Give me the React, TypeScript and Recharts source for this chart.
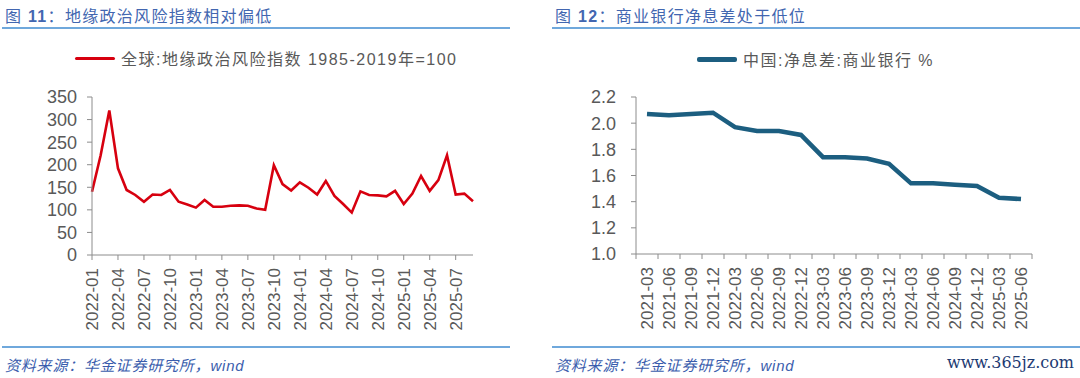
import { Line, LineChart, XAxis, YAxis } from "recharts";

const geoMonths = [
  "2022-01", "2022-02", "2022-03", "2022-04", "2022-05", "2022-06",
  "2022-07", "2022-08", "2022-09", "2022-10", "2022-11", "2022-12",
  "2023-01", "2023-02", "2023-03", "2023-04", "2023-05", "2023-06",
  "2023-07", "2023-08", "2023-09", "2023-10", "2023-11", "2023-12",
  "2024-01", "2024-02", "2024-03", "2024-04", "2024-05", "2024-06",
  "2024-07", "2024-08", "2024-09", "2024-10", "2024-11", "2024-12",
  "2025-01", "2025-02", "2025-03", "2025-04", "2025-05", "2025-06",
  "2025-07", "2025-08", "2025-09",
];
const geoRisk = [
  140, 221, 320, 192, 144, 133, 118, 134, 133, 144, 118, 112,
  105, 122, 107, 107, 109, 110, 109, 103, 100, 199, 157, 143,
  161, 149, 134, 164, 131, 113, 94, 141, 133, 132, 130, 142,
  113, 136, 175, 142, 166, 221, 134, 136, 119,
];
const geoTicks = [0, 50, 100, 150, 200, 250, 300, 350];

const nimQuarters = [
  "2021-03", "2021-06", "2021-09", "2021-12",
  "2022-03", "2022-06", "2022-09", "2022-12",
  "2023-03", "2023-06", "2023-09", "2023-12",
  "2024-03", "2024-06", "2024-09", "2024-12",
  "2025-03", "2025-06",
];
const nimValues = [
  2.07, 2.06, 2.07, 2.08, 1.97, 1.94, 1.94, 1.91, 1.74,
  1.74, 1.73, 1.69, 1.54, 1.54, 1.53, 1.52, 1.43, 1.42,
];
const nimTicks = [1.0, 1.2, 1.4, 1.6, 1.8, 2.0, 2.2];

const geoData = geoMonths.map((month, i) => ({ month, value: geoRisk[i] }));
const nimData = nimQuarters.map((quarter, i) => ({ quarter, value: nimValues[i] }));

const FONT = "'Liberation Sans', Arial, 'Noto Sans CJK SC', sans-serif";
const AXIS = "#8c8c8c";
const TEXT = "#595959";
const TITLE = "#4266b0";
const RULE = "#6fa8dc";

const NIM_PLOT_W = 396;
const nimStep = NIM_PLOT_W / nimQuarters.length;

function RotatedTick(props: any) {
  const { x, y, payload } = props;
  return (
    <text
      x={x}
      y={y}
      dy="0.35em"
      transform={`rotate(-90, ${x}, ${y})`}
      textAnchor="end"
      fill={TEXT}
      fontSize={17}
      fontFamily={FONT}
    >
      {payload.value}
    </text>
  );
}

// ticks sit between categories on the quarterly chart
function BetweenTick(props: any) {
  const { x, y, payload, index } = props;
  const axisY = y - 13;
  const half = nimStep / 2;
  return (
    <g>
      <line x1={x - half} x2={x - half} y1={axisY} y2={axisY + 5} stroke={AXIS} />
      {index === nimQuarters.length - 1 && (
        <line x1={x + half} x2={x + half} y1={axisY} y2={axisY + 5} stroke={AXIS} />
      )}
      <RotatedTick x={x} y={y} payload={payload} />
    </g>
  );
}

function Header({ num, text }: { num: string; text: string }) {
  return (
    <div
      style={{
        position: "absolute",
        left: 3,
        top: 3,
        fontSize: 16,
        letterSpacing: 1.3,
        color: TITLE,
        fontFamily: FONT,
        whiteSpace: "nowrap",
      }}
    >
      图 <b>{num}</b>：{text}
    </div>
  );
}

function LegendItem({ color, width, label }: { color: string; width: number; label: string }) {
  return (
    <div
      style={{
        display: "flex",
        alignItems: "center",
        gap: 6,
        fontSize: 16,
        letterSpacing: 1.5,
        color: TEXT,
        fontFamily: FONT,
        whiteSpace: "nowrap",
      }}
    >
      <span style={{ display: "inline-block", width: 40, height: width, background: color, borderRadius: 2 }} />
      <span>{label}</span>
    </div>
  );
}

function Footer() {
  return (
    <div
      style={{
        position: "absolute",
        left: 3,
        top: 354,
        fontSize: 15,
        fontStyle: "italic",
        color: "#3a5dad",
        fontFamily: FONT,
        letterSpacing: 0.8,
        whiteSpace: "nowrap",
      }}
    >
      资料来源：华金证券研究所，wind
    </div>
  );
}

function Rules({ width }: { width: number }) {
  return (
    <>
      <div style={{ position: "absolute", left: 0, top: 27, width, height: 2, background: RULE }} />
      <div style={{ position: "absolute", left: 0, top: 346, width, height: 2, background: RULE }} />
    </>
  );
}

export default function App() {
  return (
    <div style={{ position: "relative", width: 1080, height: 378, background: "#fff", overflow: "hidden" }}>
      <style>{`body{margin:0}`}</style>

      {/* left panel */}
      <div style={{ position: "absolute", left: 2, top: 0, width: 508, height: 378 }}>
        <Header num="11" text="地缘政治风险指数相对偏低" />
        <Rules width={508} />
        <Footer />
      </div>
      <div style={{ position: "absolute", left: 75, top: 46 }}>
        <LegendItem color="#d7000f" width={3} label="全球:地缘政治风险指数 1985-2019年=100" />
      </div>
      <div style={{ position: "absolute", left: 0, top: 0 }}>
        <LineChart width={540} height={345} data={geoData} margin={{ top: 97, right: 67, bottom: 10, left: 32 }}>
          <XAxis
            dataKey="month"
            interval={2}
            height={80}
            tickSize={5}
            tickMargin={8}
            stroke={AXIS}
            tick={<RotatedTick />}
          />
          <YAxis
            width={60}
            domain={[0, 350]}
            ticks={geoTicks}
            interval={0}
            tickSize={5}
            tickMargin={10}
            stroke={AXIS}
            tick={{ fill: TEXT, fontSize: 18, fontFamily: FONT }}
          />
          <Line
            type="linear"
            dataKey="value"
            stroke="#d7000f"
            strokeWidth={2.6}
            dot={false}
            isAnimationActive={false}
          />
        </LineChart>
      </div>

      {/* right panel */}
      <div style={{ position: "absolute", left: 552, top: 0, width: 528, height: 378 }}>
        <Header num="12" text="商业银行净息差处于低位" />
        <Rules width={528} />
        <Footer />
        <div
          style={{
            position: "absolute",
            right: 6,
            top: 353,
            fontSize: 16,
            color: "#1d3a72",
            fontFamily: "'DejaVu Serif', serif",
            whiteSpace: "nowrap",
          }}
        >
          www.365jz.com
        </div>
      </div>
      <div style={{ position: "absolute", left: 697, top: 47 }}>
        <LegendItem color="#1c5e80" width={5} label="中国:净息差:商业银行 %" />
      </div>
      <div style={{ position: "absolute", left: 540, top: 0 }}>
        <LineChart width={540} height={345} data={nimData} margin={{ top: 97, right: 48, bottom: 11, left: 36 }}>
          <XAxis
            dataKey="quarter"
            interval={0}
            height={80}
            tickSize={5}
            tickMargin={8}
            tickLine={false}
            padding={{ left: nimStep / 2, right: nimStep / 2 }}
            stroke={AXIS}
            tick={<BetweenTick />}
          />
          <YAxis
            width={60}
            domain={[1.0, 2.2]}
            ticks={nimTicks}
            interval={0}
            tickFormatter={(v: number) => v.toFixed(1)}
            tickSize={5}
            tickMargin={15}
            stroke={AXIS}
            tick={{ fill: TEXT, fontSize: 18, fontFamily: FONT }}
          />
          <Line
            type="linear"
            dataKey="value"
            stroke="#1c5e80"
            strokeWidth={4.5}
            dot={false}
            isAnimationActive={false}
          />
        </LineChart>
      </div>
    </div>
  );
}
